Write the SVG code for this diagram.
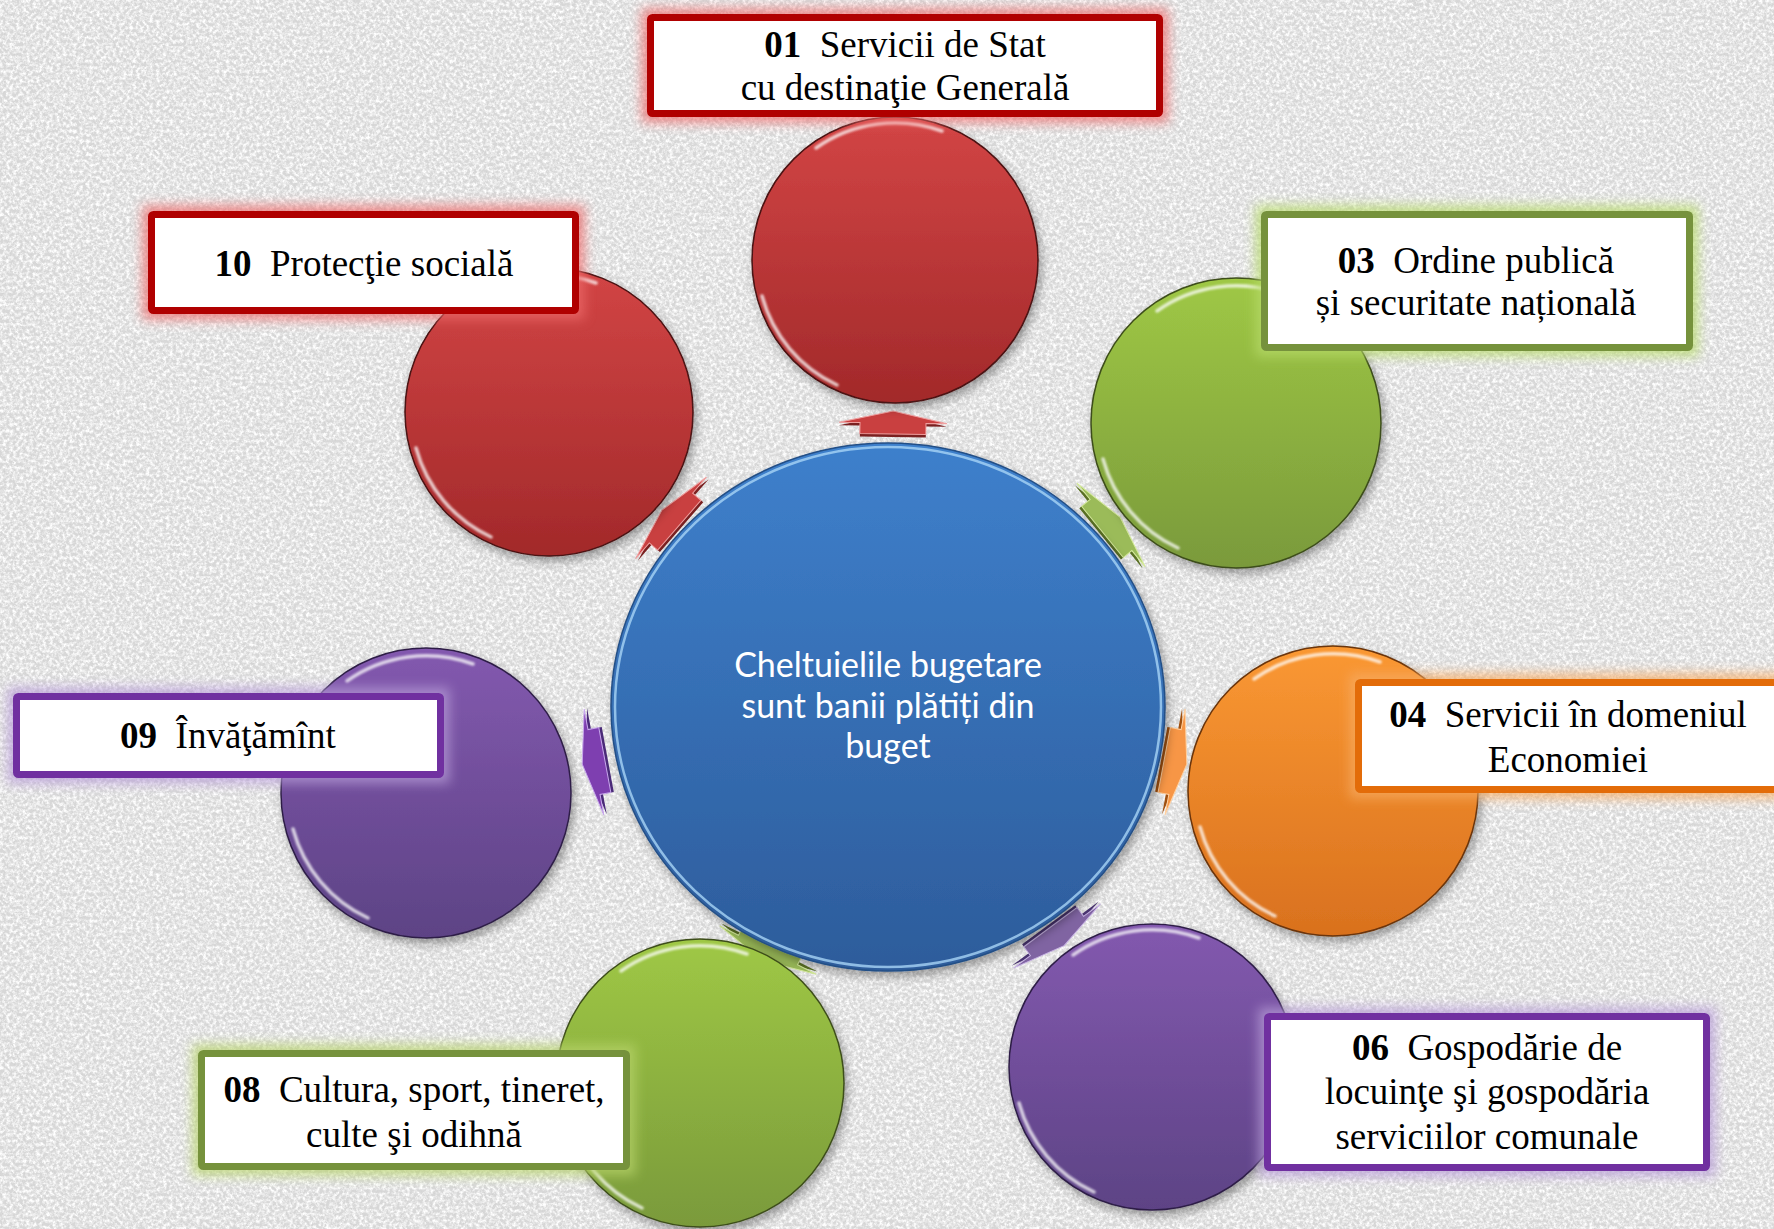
<svg xmlns="http://www.w3.org/2000/svg" xmlns:xlink="http://www.w3.org/1999/xlink" width="1774" height="1229" viewBox="0 0 1774 1229">
<style>
.lbl{font-family:"Liberation Serif","Times New Roman",serif;font-size:37px;fill:#000;text-anchor:middle}
.num{font-weight:bold}
.ctr{font-family:Lato,"Liberation Sans",sans-serif;font-size:34px;fill:#fff;text-anchor:middle}
.hl{fill:none;stroke:#fff;stroke-width:3.5;stroke-linecap:round;opacity:.75}
.boxw{fill:#fff;stroke-width:7}
.glow{fill:none;stroke-width:18;opacity:.75}
</style>
<defs>
<filter id="paper" x="0" y="0" width="1" height="1">
<feTurbulence type="fractalNoise" baseFrequency="0.3" numOctaves="3" seed="7" result="n"/>
<feColorMatrix in="n" type="matrix" values="0 0 0 0 1  0 0 0 0 1  0 0 0 0 1  2.6 0 0 0 -0.95"/>
</filter>
<filter id="paper2" x="0" y="0" width="1" height="1">
<feTurbulence type="fractalNoise" baseFrequency="0.9" numOctaves="2" seed="3" result="n"/>
<feColorMatrix in="n" type="matrix" values="0 0 0 0 0.55  0 0 0 0 0.55  0 0 0 0 0.55  -2.2 0 0 0 0.95"/>
</filter>
<filter id="blur" x="-20%" y="-40%" width="140%" height="180%"><feGaussianBlur stdDeviation="6"/></filter>
<filter id="soft" x="-10%" y="-10%" width="120%" height="120%"><feGaussianBlur stdDeviation="1.2"/></filter>
<filter id="shadow" x="-20%" y="-20%" width="140%" height="140%"><feDropShadow dx="3" dy="5" stdDeviation="5" flood-color="#000" flood-opacity="0.35"/></filter>
<linearGradient id="gRed" x1="0" y1="0" x2="0" y2="1"><stop offset="0" stop-color="#D24545"/><stop offset="1" stop-color="#A2292A"/></linearGradient>
<linearGradient id="gGreen" x1="0" y1="0" x2="0" y2="1"><stop offset="0" stop-color="#9FC845"/><stop offset="1" stop-color="#7A9A3B"/></linearGradient>
<linearGradient id="gOrange" x1="0" y1="0" x2="0" y2="1"><stop offset="0" stop-color="#FA9833"/><stop offset="1" stop-color="#D9711E"/></linearGradient>
<linearGradient id="gPurple" x1="0" y1="0" x2="0" y2="1"><stop offset="0" stop-color="#8359AF"/><stop offset="1" stop-color="#5D4385"/></linearGradient>
<linearGradient id="gBlue" x1="0" y1="0" x2="0" y2="1"><stop offset="0" stop-color="#3E80CC"/><stop offset="1" stop-color="#2D5C9B"/></linearGradient>
<path id="hlp" d="M -79 -112 A 137 137 0 0 1 47 -129 M -133 36 A 138 138 0 0 0 -58 125"/>
<path id="arrow" d="M -33 11 L -33 0 L -54 0 L 0 -12 L 54 0 L 33 0 L 33 11 Z"/>
</defs>

<rect width="1774" height="1229" fill="#D8D8D8"/>
<rect width="1774" height="1229" filter="url(#paper)"/>
<rect width="1774" height="1229" filter="url(#paper2)" opacity="0.5"/>

<g id="connectors">
<g transform="translate(893,423) rotate(0.9)"><use href="#arrow" fill="#7a2020" transform="translate(0,3)"/><use href="#arrow" fill="#C94040" stroke="#f0a0a0" stroke-width="1"/></g>
<g transform="translate(1111,525) rotate(50.8)"><use href="#arrow" fill="#5a7024" transform="translate(0,3)"/><use href="#arrow" fill="#9BBB59" stroke="#d5ea9c" stroke-width="1"/></g>
<g transform="translate(1175,762) rotate(100.7)"><use href="#arrow" fill="#a05010" transform="translate(0,3)"/><use href="#arrow" fill="#F79646" stroke="#ffd0a0" stroke-width="1"/></g>
<g transform="translate(1057,936) rotate(143.6)"><use href="#arrow" fill="#4a3470" transform="translate(0,3)"/><use href="#arrow" fill="#8064A2" stroke="#c8b4e4" stroke-width="1"/></g>
<g transform="translate(768,950) rotate(-153.4)"><use href="#arrow" fill="#5a7024" transform="translate(0,3)"/><use href="#arrow" fill="#9BBB59" stroke="#d5ea9c" stroke-width="1"/></g>
<g transform="translate(594,762) rotate(-100.5)"><use href="#arrow" fill="#4a2a78" transform="translate(0,3)"/><use href="#arrow" fill="#7E3FB0" stroke="#c8a8ec" stroke-width="1"/></g>
<g transform="translate(671,518) rotate(-49)"><use href="#arrow" fill="#7a2020" transform="translate(0,3)"/><use href="#arrow" fill="#C94040" stroke="#f0a0a0" stroke-width="1"/></g>
</g>

<g id="center">
<ellipse cx="888" cy="707" rx="277" ry="264" fill="url(#gBlue)" stroke="#244f86" stroke-width="1.5" filter="url(#shadow)"/>
<ellipse cx="888" cy="707" rx="273" ry="260" fill="none" stroke="#a8d4f6" stroke-width="2.5" opacity="0.8"/>
<text class="ctr" x="888" y="677">Cheltuielile bugetare</text>
<text class="ctr" x="888" y="718">sunt banii plătiți din</text>
<text class="ctr" x="888" y="758">buget</text>
</g>

<g id="node01">
<g transform="translate(895,260)"><circle r="143" fill="url(#gRed)" stroke="#4a1212" stroke-width="1.5" filter="url(#shadow)"/><use href="#hlp" class="hl" filter="url(#soft)"/></g>
<rect class="glow" x="650.5" y="17.5" width="509" height="96" stroke="#ee6a6a" filter="url(#blur)"/>
<rect class="boxw" x="650.5" y="17.5" width="509" height="96" rx="2" stroke="#B00000"/>
<text class="lbl" x="905" y="57" xml:space="preserve"><tspan class="num">01</tspan>  Servicii de Stat</text>
<text class="lbl" x="905" y="100">cu destinaţie Generală</text>
</g>

<g id="node10">
<g transform="translate(549,412)"><circle r="144" fill="url(#gRed)" stroke="#4a1212" stroke-width="1.5" filter="url(#shadow)"/><use href="#hlp" class="hl" filter="url(#soft)"/></g>
<rect class="glow" x="151.5" y="214.5" width="424" height="96" stroke="#ee6a6a" filter="url(#blur)"/>
<rect class="boxw" x="151.5" y="214.5" width="424" height="96" rx="2" stroke="#B00000"/>
<text class="lbl" x="364" y="276" xml:space="preserve"><tspan class="num">10</tspan>  Protecţie socială</text>
</g>

<g id="node03">
<g transform="translate(1236,423)"><circle r="145" fill="url(#gGreen)" stroke="#3d4d1a" stroke-width="1.5" filter="url(#shadow)"/><use href="#hlp" class="hl" filter="url(#soft)"/></g>
<rect class="glow" x="1264.5" y="214.5" width="425" height="133" stroke="#b8dc6a" filter="url(#blur)"/>
<rect class="boxw" x="1264.5" y="214.5" width="425" height="133" rx="2" stroke="#76923C"/>
<text class="lbl" x="1476" y="273" xml:space="preserve"><tspan class="num">03</tspan>  Ordine publică</text>
<text class="lbl" x="1476" y="315">și securitate națională</text>
</g>

<g id="node04">
<g transform="translate(1333,791)"><circle r="145" fill="url(#gOrange)" stroke="#6b3408" stroke-width="1.5" filter="url(#shadow)"/><use href="#hlp" class="hl" filter="url(#soft)"/></g>
<rect class="glow" x="1358.5" y="682.5" width="440" height="107" stroke="#f8ac62" filter="url(#blur)"/>
<rect class="boxw" x="1358.5" y="682.5" width="440" height="107" rx="2" stroke="#E36C09"/>
<text class="lbl" x="1568" y="727" xml:space="preserve"><tspan class="num">04</tspan>  Servicii în domeniul</text>
<text class="lbl" x="1568" y="772">Economiei</text>
</g>

<g id="node06">
<g transform="translate(1152,1067)"><circle r="143" fill="url(#gPurple)" stroke="#2e1f47" stroke-width="1.5" filter="url(#shadow)"/><use href="#hlp" class="hl" filter="url(#soft)"/></g>
<rect class="glow" x="1267.5" y="1016.5" width="439" height="151" stroke="#b79bd8" filter="url(#blur)"/>
<rect class="boxw" x="1267.5" y="1016.5" width="439" height="151" rx="2" stroke="#7030A0"/>
<text class="lbl" x="1487" y="1060" xml:space="preserve"><tspan class="num">06</tspan>  Gospodărie de</text>
<text class="lbl" x="1487" y="1104">locuinţe şi gospodăria</text>
<text class="lbl" x="1487" y="1149">serviciilor comunale</text>
</g>

<g id="node08">
<g transform="translate(700,1083)"><circle r="144" fill="url(#gGreen)" stroke="#3d4d1a" stroke-width="1.5" filter="url(#shadow)"/><use href="#hlp" class="hl" filter="url(#soft)"/></g>
<rect class="glow" x="201.5" y="1053.5" width="425" height="113" stroke="#b8d46a" filter="url(#blur)"/>
<rect class="boxw" x="201.5" y="1053.5" width="425" height="113" rx="2" stroke="#76923C"/>
<text class="lbl" x="414" y="1102" xml:space="preserve"><tspan class="num">08</tspan>  Cultura, sport, tineret,</text>
<text class="lbl" x="414" y="1147">culte şi odihnă</text>
</g>

<g id="node09">
<g transform="translate(426,793)"><circle r="145" fill="url(#gPurple)" stroke="#2e1f47" stroke-width="1.5" filter="url(#shadow)"/><use href="#hlp" class="hl" filter="url(#soft)"/></g>
<rect class="glow" x="16.5" y="696.5" width="424" height="78" stroke="#b79bd8" filter="url(#blur)"/>
<rect class="boxw" x="16.5" y="696.5" width="424" height="78" rx="2" stroke="#7030A0"/>
<text class="lbl" x="228" y="748" xml:space="preserve"><tspan class="num">09</tspan>  Învăţămînt</text>
</g>
</svg>
